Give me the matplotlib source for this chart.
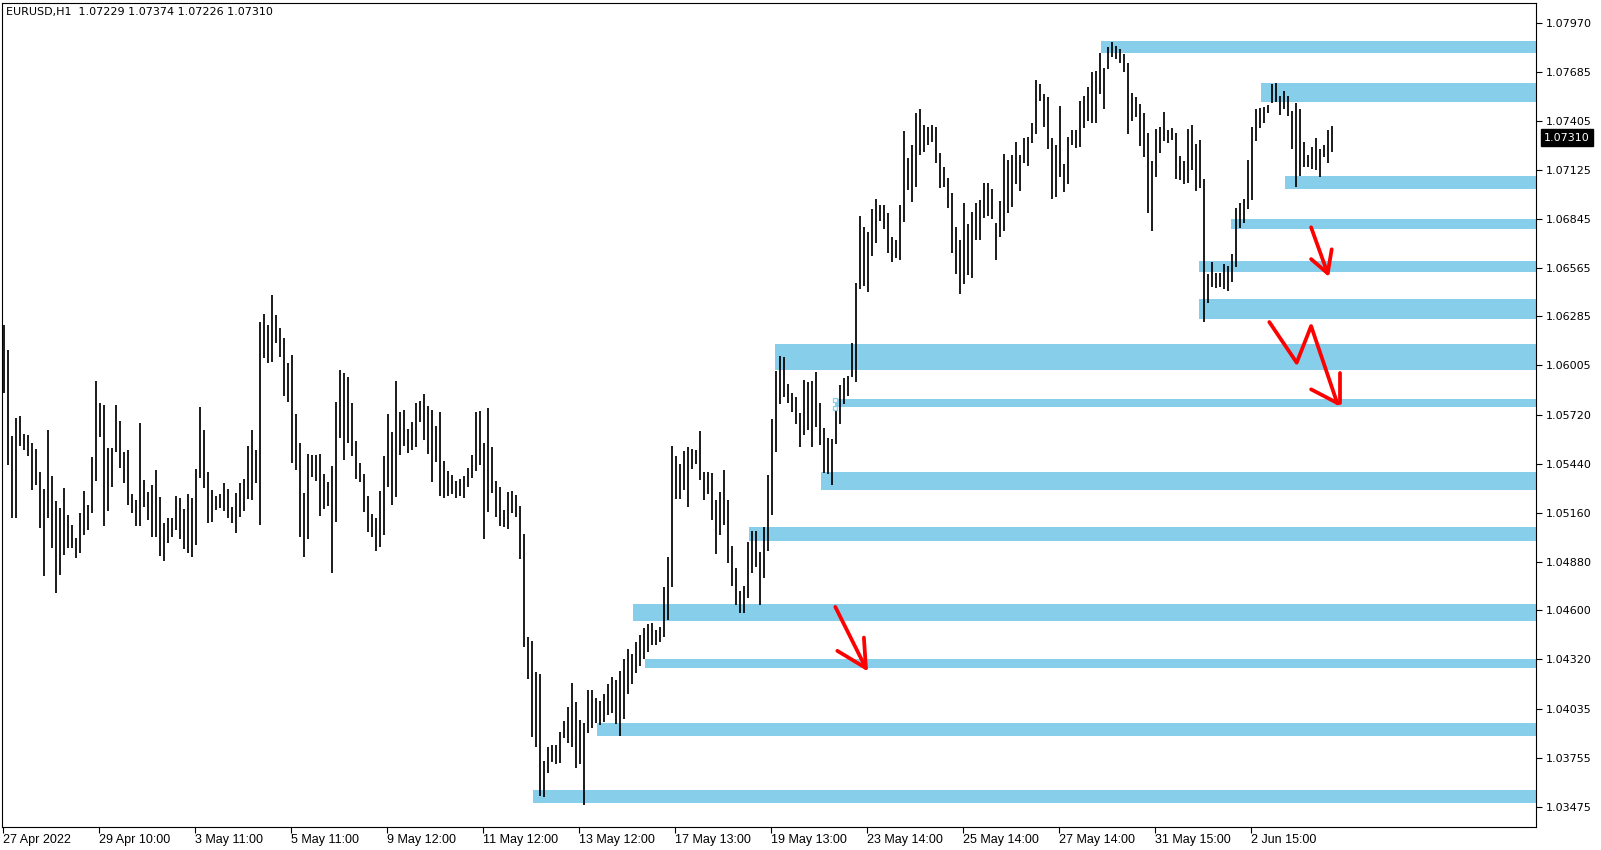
import matplotlib
matplotlib.use("Agg")
import matplotlib.pyplot as plt
from matplotlib.transforms import blended_transform_factory

# chart header
symbol = "EURUSD,H1"
last_ohlc = [1.07229, 1.07374, 1.07226, 1.07310]

# 2-hour bars (high / low)
bar_high = [
    1.06236, 1.06092, 1.05601, 1.05704, 1.05714, 1.05611, 1.05605, 1.05557, 1.05525, 1.05395,
    1.05296, 1.05634, 1.05370, 1.05227, 1.05185, 1.05299, 1.05147, 1.05089, 1.05013, 1.05156,
    1.05284, 1.05204, 1.05481, 1.05915, 1.05791, 1.05777, 1.05529, 1.05529, 1.05777, 1.05687,
    1.05506, 1.05519, 1.05267, 1.05233, 1.05672, 1.05347, 1.05280, 1.05318, 1.05405, 1.05252,
    1.05099, 1.05127, 1.05127, 1.05256, 1.05242, 1.05181, 1.05267, 1.05242, 1.05410,
    1.05768, 1.05634, 1.05395, 1.05290, 1.05256, 1.05267, 1.05332, 1.05296, 1.05191, 1.05271,
    1.05332, 1.05351, 1.05542, 1.05634, 1.05519, 1.06255, 1.06299, 1.06236, 1.06408, 1.06293,
    1.06220, 1.06163, 1.06016, 1.06064, 1.05726, 1.05557, 1.05275, 1.05496, 1.05491, 1.05491,
    1.05496, 1.05382, 1.05338, 1.05427, 1.05796, 1.05978, 1.05959, 1.05940, 1.05787, 1.05573,
    1.05447, 1.05382, 1.05256, 1.05152, 1.05127, 1.05286, 1.05485, 1.05726, 1.05624, 1.05915,
    1.05739, 1.05748, 1.05637, 1.05681, 1.05790, 1.05802, 1.05840, 1.05771, 1.05748, 1.05656,
    1.05737, 1.05458, 1.05400, 1.05375, 1.05343, 1.05351, 1.05370, 1.05419, 1.05490, 1.05739,
    1.05744, 1.05561, 1.05758, 1.05538, 1.05343, 1.05305, 1.05175, 1.05280, 1.05286, 1.05261,
    1.05198, 1.05037, 1.04449, 1.04426, 1.04248, 1.04235, 1.03738, 1.03818, 1.03828, 1.03828,
    1.03904, 1.03967, 1.04047, 1.04185, 1.04076, 1.03971, 1.03956, 1.04143, 1.04143, 1.04095,
    1.04080, 1.04120, 1.04180, 1.04220, 1.04200, 1.04250, 1.04320, 1.04380, 1.04350, 1.04420,
    1.04460, 1.04500, 1.04520, 1.04529, 1.04487, 1.04506, 1.04736, 1.04908, 1.05542, 1.05485,
    1.05439, 1.05513, 1.05538, 1.05523, 1.05519, 1.05628, 1.05395, 1.05395, 1.05389, 1.05233,
    1.05280, 1.05405, 1.05233, 1.04969, 1.04841, 1.04713, 1.04740, 1.04994, 1.05057, 1.05057,
    1.04936, 1.05080, 1.05376, 1.05695, 1.05974, 1.06058, 1.06050, 1.05898, 1.05848, 1.05821,
    1.05730, 1.05921, 1.05911, 1.05917, 1.05968, 1.05787, 1.05644, 1.05586, 1.05581, 1.05758,
    1.05892, 1.05930, 1.05944, 1.06131, 1.06479, 1.06861, 1.06800, 1.06771, 1.06899, 1.06958,
    1.06924, 1.06924, 1.06880, 1.06742, 1.06723, 1.06924, 1.07350, 1.07191, 1.07268, 1.07453,
    1.07474, 1.07382, 1.07373, 1.07382, 1.07373, 1.07224, 1.07144, 1.07077, 1.06991, 1.06800,
    1.06723, 1.06933, 1.06815, 1.06886, 1.06933, 1.06952, 1.07048, 1.07048, 1.07014, 1.06823,
    1.06949, 1.07216, 1.07182, 1.07210, 1.07287, 1.07210, 1.07306, 1.07312, 1.07392, 1.07640,
    1.07618, 1.07560, 1.07545, 1.07306, 1.07268, 1.07491, 1.07159, 1.07316, 1.07354, 1.07354,
    1.07522, 1.07549, 1.07602, 1.07688, 1.07694, 1.07797, 1.07707, 1.07831, 1.07860, 1.07835,
    1.07816, 1.07789, 1.07740, 1.07568, 1.07545, 1.07503, 1.07453, 1.07339, 1.07178, 1.07358,
    1.07373, 1.07459, 1.07354, 1.07363, 1.07339, 1.07205, 1.07178, 1.07358, 1.07382, 1.07274,
    1.07296, 1.07071, 1.06528, 1.06599, 1.06536, 1.06532, 1.06586, 1.06574, 1.06643, 1.06905,
    1.06933, 1.06956, 1.07182, 1.07373, 1.07472, 1.07478, 1.07484, 1.07497, 1.07617, 1.07625,
    1.07549, 1.07579, 1.07549, 1.07465, 1.07507, 1.07472, 1.07287, 1.07210, 1.07254, 1.07306,
    1.07243, 1.07268, 1.07354, 1.07374,
]
bar_low = [
    1.05844, 1.05433, 1.05127, 1.05127, 1.05544, 1.05519, 1.05485, 1.05290, 1.05318, 1.05074,
    1.04799, 1.05127, 1.04955, 1.04698, 1.04803, 1.04917, 1.04955, 1.04955, 1.04898, 1.04931,
    1.05032, 1.05061, 1.05156, 1.05343, 1.05596, 1.05085, 1.05171, 1.05309, 1.05510, 1.05414,
    1.05332, 1.05204, 1.05156, 1.05084, 1.05084, 1.05191, 1.05118, 1.05019, 1.05022, 1.04912,
    1.04885, 1.04988, 1.05022, 1.05061, 1.05007, 1.04950, 1.04931, 1.04908, 1.04975,
    1.05357, 1.05299, 1.05099, 1.05108, 1.05175, 1.05185, 1.05171, 1.05127, 1.05099, 1.05045,
    1.05133, 1.05171, 1.05236, 1.05233, 1.05328, 1.05089, 1.06045, 1.06020, 1.06026, 1.06131,
    1.06050, 1.05829, 1.05796, 1.05443, 1.05405, 1.05022, 1.04908, 1.05007, 1.05366, 1.05343,
    1.05141, 1.05179, 1.05198, 1.04816, 1.05108, 1.05586, 1.05462, 1.05557, 1.05485, 1.05351,
    1.05338, 1.05166, 1.05051, 1.05019, 1.04942, 1.04965, 1.05032, 1.05309, 1.05204, 1.05252,
    1.05490, 1.05542, 1.05503, 1.05519, 1.05538, 1.05681, 1.05576, 1.05496, 1.05337, 1.05452,
    1.05255, 1.05242, 1.05255, 1.05267, 1.05242, 1.05255, 1.05242, 1.05309, 1.05356, 1.05400,
    1.05433, 1.05007, 1.05165, 1.05274, 1.05133, 1.05083, 1.05079, 1.05064, 1.05156, 1.05133,
    1.04892, 1.04391, 1.04204, 1.03872, 1.03818, 1.03535, 1.03528, 1.03665, 1.03732, 1.03719,
    1.03726, 1.03866, 1.03837, 1.03818, 1.03694, 1.03719, 1.03484, 1.03898, 1.03923, 1.03952,
    1.03940, 1.03960, 1.04000, 1.04010, 1.03950, 1.03880, 1.03980, 1.04120, 1.04180, 1.04240,
    1.04280, 1.04320, 1.04360, 1.04400, 1.04400, 1.04420, 1.04449, 1.04545, 1.04736, 1.05236,
    1.05236, 1.05290, 1.05194, 1.05408, 1.05439, 1.05347, 1.05233, 1.05267, 1.05118, 1.04923,
    1.05032, 1.05089, 1.04870, 1.04740, 1.04631, 1.04587, 1.04583, 1.04669, 1.04812, 1.04847,
    1.04631, 1.04784, 1.04942, 1.05147, 1.05510, 1.05783, 1.05821, 1.05787, 1.05739, 1.05668,
    1.05535, 1.05605, 1.05634, 1.05535, 1.05649, 1.05548, 1.05389, 1.05382, 1.05319, 1.05554,
    1.05668, 1.05783, 1.05829, 1.05936, 1.05911, 1.06440, 1.06459, 1.06427, 1.06631, 1.06704,
    1.06834, 1.06784, 1.06651, 1.06599, 1.06618, 1.06609, 1.06828, 1.07010, 1.06943, 1.07029,
    1.07210, 1.07230, 1.07268, 1.07287, 1.07166, 1.07019, 1.07029, 1.06905, 1.06651, 1.06528,
    1.06414, 1.06471, 1.06523, 1.06503, 1.06723, 1.06723, 1.06847, 1.06861, 1.06842, 1.06609,
    1.06739, 1.06777, 1.06876, 1.06911, 1.07044, 1.07006, 1.07163, 1.07147, 1.07277, 1.07331,
    1.07522, 1.07369, 1.07243, 1.06956, 1.06968, 1.07086, 1.07000, 1.07044, 1.07268, 1.07249,
    1.07254, 1.07363, 1.07407, 1.07392, 1.07392, 1.07560, 1.07472, 1.07701, 1.07770, 1.07759,
    1.07736, 1.07688, 1.07331, 1.07407, 1.07426, 1.07262, 1.07201, 1.06876, 1.06777, 1.07086,
    1.07224, 1.07293, 1.07281, 1.07296, 1.07071, 1.07067, 1.07044, 1.07048, 1.07125, 1.07006,
    1.07019, 1.06255, 1.06360, 1.06456, 1.06446, 1.06456, 1.06440, 1.06433, 1.06484, 1.06567,
    1.06790, 1.06819, 1.06899, 1.06953, 1.07293, 1.07363, 1.07396, 1.07449, 1.07510, 1.07516,
    1.07440, 1.07472, 1.07434, 1.07243, 1.07029, 1.07090, 1.07144, 1.07144, 1.07128, 1.07124,
    1.07086, 1.07201, 1.07167, 1.07226,
]

# support / resistance zones: start bar (hours) and price range
zone_start = [549, 629, 641, 614, 598, 598, 386, 416, 409, 373, 315, 321, 297, 265]
zone_low = [1.07793, 1.07514, 1.07017, 1.06787, 1.06542, 1.06272, 1.05977,
            1.05763, 1.05288, 1.04996, 1.04540, 1.04270, 1.03879, 1.03494]
zone_high = [1.07864, 1.07625, 1.07092, 1.06843, 1.06604, 1.06384, 1.06129,
             1.05809, 1.05394, 1.05077, 1.04639, 1.04319, 1.03956, 1.03568]

# hand drawn red arrows (hour, price)
arrow_lines = [
    ([653.9, 662.2], [1.06796, 1.06532]),
    ([653.9, 662.2, 664.2], [1.06614, 1.06532, 1.06670]),
    ([633.0, 646.7, 653.9, 667.0], [1.06253, 1.06020, 1.06230, 1.05787]),
    ([653.9, 667.3], [1.05867, 1.05787]),
    ([668.4, 668.4], [1.05962, 1.05790]),
    ([416.0, 431.3], [1.04620, 1.04269]),
    ([417.0, 431.3, 430.3], [1.04368, 1.04269, 1.04444]),
]
handle_x = [416, 416]
handle_y = [1.05804, 1.05758]

price_ticks = [1.07970, 1.07685, 1.07405, 1.07125, 1.06845, 1.06565, 1.06285, 1.06005,
               1.05720, 1.05440, 1.05160, 1.04880, 1.04600, 1.04320, 1.04035, 1.03755, 1.03475]
time_labels = ["27 Apr 2022", "29 Apr 10:00", "3 May 11:00", "5 May 11:00", "9 May 12:00",
               "11 May 12:00", "13 May 12:00", "17 May 13:00", "19 May 13:00", "23 May 14:00",
               "25 May 14:00", "27 May 14:00", "31 May 15:00", "2 Jun 15:00"]

W, H = 1601, 850
fig = plt.figure(figsize=(W / 100, H / 100), dpi=100)
ax = fig.add_axes([2 / W, 23 / H, 1534 / W, 824 / H])
x_max = 766.35
ax.set_xlim(-0.65, x_max)
ax.set_ylim(1.03358, 1.08082)

# zones
for s, lo, hi in zip(zone_start, zone_low, zone_high):
    ax.fill_between([s, x_max], lo, hi, color="#87CEEB", linewidth=0, zorder=1)
ax.plot(handle_x, handle_y, "s", ms=3.2, mfc="white", mec="#87CEEB", mew=0.9, zorder=3)

# price bars
xs = [2 * i + 0.5 for i in range(len(bar_high))]
ax.vlines(xs, bar_low, bar_high, colors="black", linewidth=1.25, zorder=2)

for px, py in arrow_lines:
    ax.plot(px, py, color="red", lw=2.7, solid_capstyle="round",
            solid_joinstyle="round", zorder=5)

# axes styling
for sp in ax.spines.values():
    sp.set_linewidth(0.8)
    sp.set_color("black")
ax.yaxis.tick_right()
ax.set_yticks(price_ticks)
ax.set_yticklabels([f"{p:.5f}" for p in price_ticks])
ax.tick_params(axis="y", length=4, width=0.8, pad=3, labelsize=8)
ax.set_xticks([48 * k for k in range(len(time_labels))])
ax.set_xticklabels(time_labels, ha="left", family=["Liberation Sans", "DejaVu Sans"], fontsize=9)
ax.tick_params(axis="x", length=4, width=0.8, pad=1)

tr = blended_transform_factory(ax.transAxes, ax.transData)
ax.text(1 + 8 / 1534, last_ohlc[3], f"{last_ohlc[3]:.5f}", transform=tr, ha="left",
        va="center", color="white", fontsize=8, clip_on=False,
        bbox=dict(boxstyle="square,pad=0.3", fc="black", ec="black"))

fig.text(6 / W, 1 - 12 / H, symbol + "  " + " ".join(f"{v:.5f}" for v in last_ohlc),
         va="center", ha="left", fontsize=8)

fig.savefig("out.png", dpi=100)
